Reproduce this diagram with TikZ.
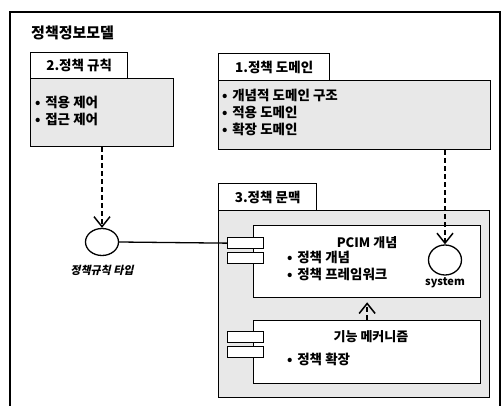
\documentclass[tikz,border=0pt]{standalone}
\usepackage{fontspec}
\setmainfont{Noto Sans CJK KR}
\newfontfamily\krit{Noto Sans CJK KR}[FakeSlant=0.22]
\usetikzlibrary{arrows.meta,shapes.geometric}
\definecolor{pkgfill}{gray}{0.91}
\tikzset{
  ln/.style={line width=1.3pt},
  tabbox/.style={ln, draw, fill=white, anchor=north west, inner sep=0pt, font=\bfseries\fontsize{13.5}{15}\selectfont},
  pkgbody/.style={ln, draw, fill=pkgfill, anchor=north west, inner sep=0pt},
  compbox/.style={ln, draw, fill=white, anchor=north west, inner sep=0pt},
  portbox/.style={ln, draw, fill=white, anchor=north west, inner sep=0pt, minimum width=36pt, minimum height=11pt},
  iface/.style={ln, draw, fill=white, ellipse, inner sep=0pt},
  bul/.style={anchor=north west, align=left, inner sep=0pt, font=\bfseries\fontsize{13.5}{17}\selectfont},
  dep/.style={line width=1.6pt, dash pattern=on 5pt off 3pt, -{Straight Barb[length=10pt,width=16pt,line width=1.5pt]}},
}
\newcommand{\bl}{•\hspace{0.35em}}
\begin{document}
\begin{tikzpicture}[x=1pt,y=-1pt]
\useasboundingbox (0,0) rectangle (501,406);
% outer frame
\draw[ln] (10,409) -- (10,12) -- (500,12) -- (500,409);
\node[anchor=west, inner sep=0pt, font=\bfseries\fontsize{15}{17}\selectfont] (title) at (31,33) {정책정보모델};

% package 2
\node[pkgbody, minimum width=143pt, minimum height=68pt] (p2) at (30,78) {};
\node[tabbox, minimum width=97pt, minimum height=26pt] (t2) at (30,52) {2.정책 규칙};
\node[bul] (b2) at (35,96) {\bl 적용 제어\\\bl 접근 제어};

% package 1
\node[pkgbody, minimum width=272pt, minimum height=69pt] (p1) at (218,80) {};
\node[tabbox, minimum width=111pt, minimum height=27pt] (t1) at (218,53) {1.정책 도메인};
\node[bul] (b1) at (222,89) {\bl 개념적 도메인 구조\\\bl 적용 도메인\\\bl 확장 도메인};

% package 3
\node[pkgbody, minimum width=271pt, minimum height=187pt] (p3) at (218,210) {};
\node[tabbox, minimum width=98pt, minimum height=27pt] (t3) at (218,183) {3.정책 문맥};

% PCIM component
\node[compbox, minimum width=227pt, minimum height=72pt] (pcim) at (253,225) {};
\node[portbox] (pp1) at (227,237) {};
\node[portbox] (pp2) at (227,252) {};
\node[anchor=center, inner sep=0pt, font=\bfseries\fontsize{13}{15}\selectfont] (pcimt) at (367,243) {PCIM 개념};
\node[bul] (bp) at (287,251) {\bl 정책 개념\\\bl 정책 프레임워크};
\node[iface, minimum width=33pt, minimum height=30pt] (sys) at (445,260) {};
\node[anchor=center, inner sep=0pt, font=\bfseries\fontsize{11}{13}\selectfont] (syst) at (445,283) {system};

% mechanism component
\node[compbox, minimum width=227pt, minimum height=63pt] (mech) at (253,320) {};
\node[portbox] (mp1) at (227,331) {};
\node[portbox] (mp2) at (227,346) {};
\node[anchor=center, inner sep=0pt, font=\bfseries\fontsize{13}{15}\selectfont] (mecht) at (371,337) {기능 메커니즘};
\node[bul] (bm) at (287,353) {\bl 정책 확장};

% rule type interface
\node[iface, minimum width=33pt, minimum height=27pt] (rtype) at (102,242) {};
\node[anchor=center, inner sep=0pt, font=\krit\bfseries\fontsize{11}{13}\selectfont] (rtypet) at (102,270) {정책규칙 타입};

% connectors
\draw[ln] (rtype.east) -- (pp1.west);
\draw[dep] (p2.south -| rtype) -- (rtype.north);
\draw[dep] (p1.south -| sys) -- (sys.north);
\draw[dep] (mech.north) -- ([yshift=-4pt]pcim.south -| mech.north);
\end{tikzpicture}
\end{document}
